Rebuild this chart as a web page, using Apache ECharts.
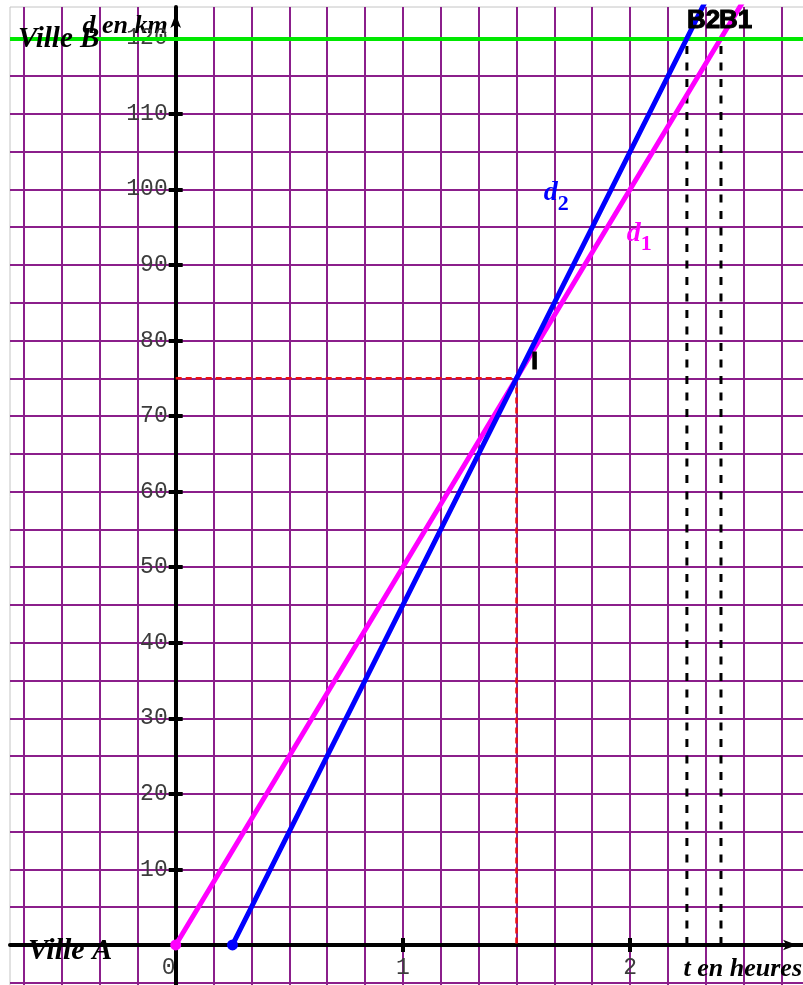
<!DOCTYPE html>
<html>
<head>
<meta charset="utf-8">
<title>Ville A - Ville B</title>
<script src="https://cdn.jsdelivr.net/npm/echarts@6.0.0/dist/echarts.min.js"></script>
<style>
  html, body { margin: 0; padding: 0; background: #fff; }
  #chart { width: 803px; height: 985px; }
</style>
</head>
<body>
<div id="chart"></div>
<script>
// temps en heures, distances en km
const d1Points = [[0, 0], [1.5, 75], [2.4, 120], [2.5, 125]]
const d2Points = [[0.25, 0], [1.5, 75], [2.25, 120], [2.3333, 125]]
const pointI = [1.5, 75]
const arrivalB2 = 2.25
const arrivalB1 = 2.4
const distanceAB = 120

const xTickLabels = [0, 1, 2]
const xTicks = [1, 2]
const yTickLabels = [10, 20, 30, 40, 50, 60, 70, 80, 90, 100, 110, 120]
// quadrillage : 10 min en abscisse, 5 km en ordonnee
const xGrid = []
for (let k = -4; k <= 16; k++) xGrid.push(k / 6)
const yGrid = [-5, 0, 5, 10, 15, 20, 25, 30, 35, 40, 45, 50, 55, 60, 65, 70, 75, 80, 85, 90, 95, 100, 105, 110, 115, 120]

// bornes de la fenetre
const tMin = -0.7293
const tMax = 2.7654
const dMin = -5.43
const dMax = 124.14

// position des axes (origine) dans la zone du repere
const yAxisOffset = -165.7
const xAxisOffset = -41

const gridColor = '#8b1f8b'
const monoFont = 'Liberation Mono'
const serifFont = 'Liberation Serif'
const sansFont = 'Liberation Sans'

const chart = echarts.init(document.getElementById('chart'))

function gridAxis(min, max, values) {
  return {
    type: 'value',
    min: min,
    max: max,
    axisLine: { show: false, onZero: false },
    axisTick: { show: false, customValues: values },
    axisLabel: { show: false },
    splitLine: { show: true, lineStyle: { color: gridColor, width: 2 } }
  }
}

function tickAxis(min, max, position, offset, ticks) {
  // demi-graduation cote interieur
  return {
    type: 'value',
    min: min,
    max: max,
    position: position,
    offset: offset,
    axisLine: { show: false, onZero: false },
    axisTick: { show: true, inside: true, length: 7, customValues: ticks, lineStyle: { color: '#000', width: 4 } },
    axisLabel: { show: false },
    splitLine: { show: false }
  }
}

const nameStyle = {
  fontFamily: serifFont,
  fontStyle: 'italic',
  fontWeight: 'bold',
  fontSize: 26,
  color: '#000'
}

function note(text, point, label) {
  return {
    type: 'scatter',
    xAxisIndex: 1,
    yAxisIndex: 1,
    silent: true,
    symbolSize: 0,
    z: 6,
    itemStyle: { opacity: 1 },
    data: [point],
    label: Object.assign({
      show: true,
      position: 'inside',
      formatter: text,
      color: '#000',
      textBorderWidth: 0
    }, label)
  }
}

function dashed(points, color, width, dash) {
  return {
    type: 'line',
    xAxisIndex: 1,
    yAxisIndex: 1,
    data: points,
    symbol: 'none',
    silent: true,
    z: 3,
    lineStyle: { color: color, width: width, type: dash }
  }
}

const startDot = (val, params) => params.dataIndex === 0 ? 11 : 0

const boldSans = { fontFamily: sansFont, fontWeight: 'bold', color: '#000', textBorderColor: '#000', textBorderWidth: 1 }

const axisArrow = {
  onZero: false,
  symbol: ['none', 'arrow'],
  symbolSize: [8, 14],
  symbolOffset: [0, -7],
  lineStyle: { color: '#000', width: 4 }
}

chart.setOption({
  animation: false,
  backgroundColor: '#fff',
  grid: {
    left: 10,
    top: 7,
    right: -1,
    bottom: -1,
    show: true,
    borderColor: '#c4c4c4',
    borderWidth: 1,
    containLabel: false,
    outerBoundsMode: 'none'
  },
  xAxis: [
    gridAxis(tMin, tMax, xGrid),
    {
      type: 'value',
      min: tMin,
      max: tMax,
      position: 'bottom',
      offset: xAxisOffset,
      name: 't en heures',
      nameLocation: 'end',
      nameGap: -2,
      nameMoveOverlap: false,
      nameTextStyle: Object.assign({ align: 'right', verticalAlign: 'top', padding: [11, 0, 0, 0] }, nameStyle),
      axisLine: axisArrow,
      axisTick: { show: true, length: 7, customValues: xTicks, lineStyle: { color: '#000', width: 4 } },
      axisLabel: {
        customValues: xTickLabels,
        margin: 11,
        fontFamily: monoFont,
        fontSize: 23,
        color: '#3c3c3c',
        formatter: v => v === 0 ? '{z|0}' : String(v),
        rich: { z: { fontFamily: monoFont, fontSize: 23, color: '#3c3c3c', padding: [0, 14, 0, 0] } }
      },
      splitLine: { show: false }
    },
    tickAxis(tMin, tMax, 'bottom', xAxisOffset, xTicks)
  ],
  yAxis: [
    gridAxis(dMin, dMax, yGrid),
    {
      type: 'value',
      min: dMin,
      max: dMax,
      position: 'left',
      offset: yAxisOffset,
      name: 'd en km',
      nameLocation: 'end',
      nameGap: -19,
      nameMoveOverlap: false,
      nameTextStyle: Object.assign({ align: 'right', verticalAlign: 'middle', padding: [0, 8, 0, 0] }, nameStyle),
      axisLine: axisArrow,
      axisTick: { show: true, length: 7, customValues: yTickLabels, lineStyle: { color: '#000', width: 4 } },
      axisLabel: {
        customValues: yTickLabels,
        margin: 8,
        fontFamily: monoFont,
        fontSize: 23,
        color: '#3c3c3c'
      },
      splitLine: { show: false }
    },
    tickAxis(dMin, dMax, 'left', yAxisOffset, yTickLabels)
  ],
  series: [
    // Ville B : droite d = 120
    {
      type: 'line',
      xAxisIndex: 1,
      yAxisIndex: 1,
      data: [],
      silent: true,
      z: 2,
      markLine: {
        silent: true,
        symbol: 'none',
        label: { show: false },
        lineStyle: { color: '#00e800', width: 4, type: 'solid' },
        data: [{ yAxis: distanceAB }]
      }
    },
    dashed([[0, pointI[1]], pointI, [pointI[0], 0]], '#f01010', 2.5, [6, 4]),
    dashed([[arrivalB2, 0], [arrivalB2, distanceAB]], '#000', 3, [8, 8.5]),
    dashed([[arrivalB1, 0], [arrivalB1, distanceAB]], '#000', 3, [8, 8.5]),
    {
      name: 'd1',
      type: 'line',
      xAxisIndex: 1,
      yAxisIndex: 1,
      data: d1Points,
      symbol: 'circle',
      symbolSize: startDot,
      showSymbol: true,
      z: 4,
      itemStyle: { color: '#ff00ff' },
      lineStyle: { color: '#ff00ff', width: 5 }
    },
    {
      name: 'd2',
      type: 'line',
      xAxisIndex: 1,
      yAxisIndex: 1,
      data: d2Points,
      symbol: 'circle',
      symbolSize: startDot,
      showSymbol: true,
      z: 5,
      itemStyle: { color: '#0000ff' },
      lineStyle: { color: '#0000ff', width: 5 }
    },
    note('I', pointI, Object.assign({ offset: [18, -16], fontSize: 24, textBorderWidth: 1.5 }, boldSans)),
    note('B2', [arrivalB2, distanceAB], Object.assign({ align: 'left', offset: [0, -17], fontSize: 26 }, boldSans)),
    note('B1', [arrivalB1, distanceAB], Object.assign({ align: 'left', offset: [-2, -17], fontSize: 26 }, boldSans)),
    note('Ville B', [tMin, distanceAB], Object.assign({}, nameStyle, { align: 'left', offset: [8, 1], fontSize: 29 })),
    note('Ville A', [tMin, 0], Object.assign({}, nameStyle, { align: 'left', offset: [18, 6], fontSize: 30 })),
    note('{d|d}{s|2}', [1.62, 99], {
      align: 'left',
      rich: {
        d: { fontFamily: serifFont, fontStyle: 'italic', fontWeight: 'bold', fontSize: 28, color: '#0000ff', verticalAlign: 'top' },
        s: { fontFamily: serifFont, fontWeight: 'bold', fontSize: 22, color: '#0000ff', verticalAlign: 'top', padding: [14, 0, 0, 0] }
      }
    }),
    note('{d|d}{s|1}', [1.985, 93.6], {
      align: 'left',
      rich: {
        d: { fontFamily: serifFont, fontStyle: 'italic', fontWeight: 'bold', fontSize: 28, color: '#ff00ff', verticalAlign: 'top' },
        s: { fontFamily: serifFont, fontWeight: 'bold', fontSize: 22, color: '#ff00ff', verticalAlign: 'top', padding: [14, 0, 0, 0] }
      }
    })
  ]
})
</script>
</body>
</html>
